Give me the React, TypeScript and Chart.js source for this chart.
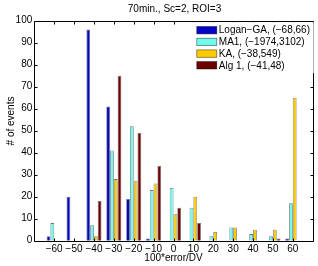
import React, { useEffect, useRef } from 'react';
import { Chart, registerables } from 'chart.js';

Chart.register(...registerables);

const TITLE = '70min., Sc=2, ROI=3';
const X_LABEL = '100*error/DV';
const Y_LABEL = '# of events';

// bin centres (x-axis categories); axis runs from -70 to 70
const categories = [-60, -50, -40, -30, -20, -10, 0, 10, 20, 30, 40, 50, 60];
const axisEnds = [-70, 70];

const loganGA = [2, 20, 96, 61, 19, 1, 0, 0, 0, 0, 0, 0, 1];
const ma1 = [8, 0, 7, 41, 52, 23, 24, 15, 2, 6, 3, 2, 17];
const ka = [0, 0, 2, 28, 27, 26, 12, 20, 4, 6, 5, 5, 65];
const alg1 = [0, 0, 18, 75, 49, 34, 15, 8, 0, 0, 0, 1, 0];

const seriesNames = [
  'Logan\u2212GA, (\u221268,66)',
  'MA1, (\u22121974,3102)',
  'KA, (\u221238,549)',
  'Alg 1, (\u221241,48)',
];
const seriesColors = ['#0505c8', '#72fcec', '#fcca00', '#6c0000'];

const yMin = 0;
const yMax = 100;
const yStep = 10;

const FONT = '"Liberation Sans", Arial, Helvetica, sans-serif';

const fmt = (v: number) => (v < 0 ? '\u2212' + Math.abs(v) : String(v));

export default function App() {
  const ref = useRef<HTMLCanvasElement | null>(null);

  useEffect(() => {
    document.body.style.margin = '0';
    const canvas = ref.current;
    if (!canvas) return;

    const labels = [axisEnds[0], ...categories, axisEnds[1]].map(String);
    const pad = (arr: number[]) => [null, ...arr, null];
    const series = [loganGA, ma1, ka, alg1];

    const decor = {
      id: 'decor',
      afterDraw(chart: any) {
        const { ctx, chartArea: a, scales } = chart;
        const x = scales.x;
        const y = scales.y;
        ctx.save();
        ctx.strokeStyle = '#000';
        ctx.lineWidth = 1;
        const L = Math.round(a.left) + 0.5;
        const R = Math.round(a.right) + 0.5;
        const T = Math.round(a.top) + 0.5;
        const B = Math.round(a.bottom) + 0.5;
        const tl = 3;
        ctx.beginPath();
        ctx.rect(L, T, R - L, B - T);
        x.ticks.forEach((t: any, i: number) => {
          if (!t.label) return;
          const px = Math.round(x.getPixelForTick(i)) + 0.5;
          ctx.moveTo(px, B);
          ctx.lineTo(px, B - tl);
          ctx.moveTo(px, T);
          ctx.lineTo(px, T + tl);
        });
        y.ticks.forEach((t: any, i: number) => {
          const py = Math.round(y.getPixelForTick(i)) + 0.5;
          ctx.moveTo(L, py);
          ctx.lineTo(L + tl, py);
          ctx.moveTo(R, py);
          ctx.lineTo(R - tl, py);
        });
        ctx.stroke();

        // legend
        const lx = a.left + 158.5;
        const ly = a.top + 1.5;
        ctx.fillStyle = '#fff';
        ctx.fillRect(lx, ly, a.right + 1 - lx, 51);
        ctx.font = '10px ' + FONT;
        ctx.textBaseline = 'middle';
        ctx.textAlign = 'left';
        seriesNames.forEach((name, i) => {
          const cy = ly + 8 + i * 11.7;
          ctx.fillStyle = seriesColors[i];
          ctx.fillRect(lx + 4, cy - 3.7, 20, 7.4);
          ctx.strokeStyle = 'rgba(0,0,0,0.6)';
          ctx.lineWidth = 0.7;
          ctx.strokeRect(lx + 4, cy - 3.7, 20, 7.4);
          ctx.fillStyle = '#000';
          ctx.fillText(name, lx + 26, cy + 0.5);
        });

        // titles
        ctx.fillStyle = '#000';
        ctx.textAlign = 'center';
        ctx.textBaseline = 'middle';
        ctx.fillText(TITLE, (a.left + a.right) / 2 + 1, 9.5);
        ctx.fillText(X_LABEL, (a.left + a.right) / 2, 258);
        ctx.save();
        ctx.translate(11.5, 121);
        ctx.rotate(-Math.PI / 2);
        ctx.fillText(Y_LABEL, 0, 0);
        ctx.restore();
        ctx.restore();
      },
    };

    const chart = new Chart(canvas, {
      type: 'bar',
      data: {
        labels,
        datasets: series.map((d, i) => ({
          label: seriesNames[i],
          data: pad(d),
          backgroundColor: seriesColors[i],
          borderColor: 'rgba(0,0,0,0.55)',
          borderWidth: 0.8,
          borderSkipped: 'start',
          categoryPercentage: 0.76,
          barPercentage: 1,
        })),
      },
      options: {
        responsive: false,
        animation: false,
        maintainAspectRatio: false,
        layout: { padding: { left: 0, right: 5.3, top: 20.7, bottom: 0 } },
        plugins: {
          legend: { display: false },
          title: { display: false },
          tooltip: { enabled: false },
        },
        scales: {
          x: {
            type: 'category',
            offset: false,
            grid: { display: false, drawTicks: false },
            border: { display: false },
            ticks: {
              autoSkip: false,
              maxRotation: 0,
              padding: 3,
              color: '#000',
              font: { family: FONT, size: 10 },
              callback: (_v: any, i: number) => {
                const v = Number(labels[i]);
                return categories.includes(v) ? fmt(v) : '';
              },
            },
            afterFit: (s: any) => {
              s.height = 25.3;
            },
          },
          y: {
            min: yMin,
            max: yMax,
            grid: { display: false, drawTicks: false },
            border: { display: false },
            ticks: {
              stepSize: yStep,
              padding: 2,
              color: '#000',
              font: { family: FONT, size: 10 },
            },
            afterFit: (s: any) => {
              s.width = 34.3;
            },
          },
        },
      },
      plugins: [decor],
    });

    return () => chart.destroy();
  }, []);

  return (
    <div style={{ width: 318, height: 266, background: '#fff' }}>
      <canvas ref={ref} width={318} height={266} style={{ display: 'block' }} />
    </div>
  );
}
